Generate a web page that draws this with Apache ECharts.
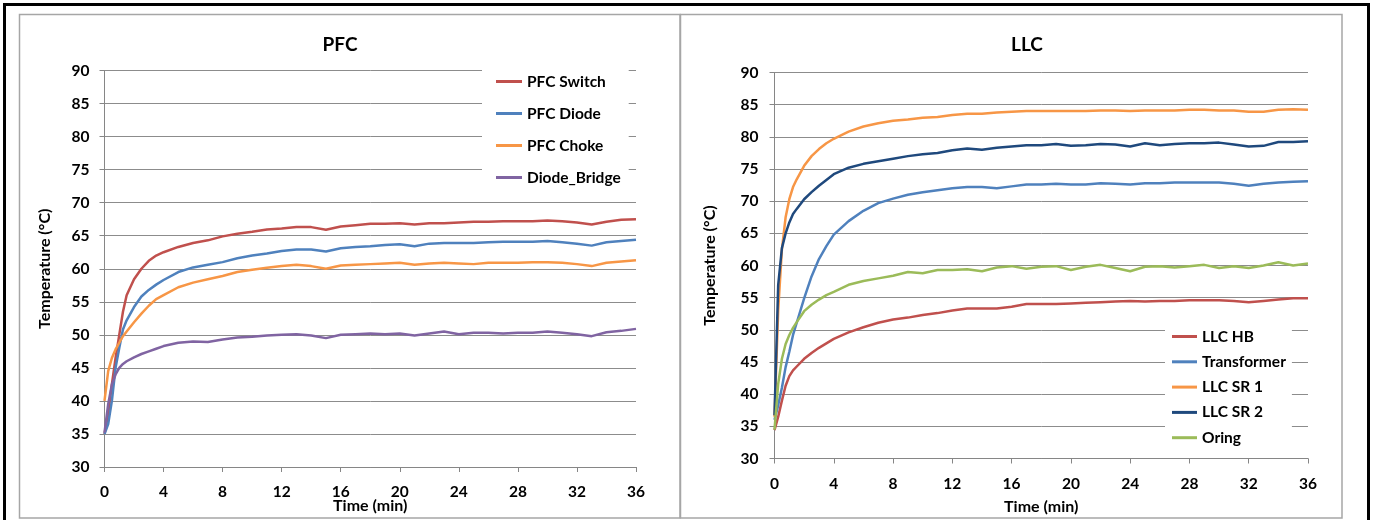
<!DOCTYPE html>
<html>
<head>
<meta charset="utf-8">
<script src="https://cdn.jsdelivr.net/npm/echarts@6/dist/echarts.min.js"></script>
<style>
html,body{margin:0;padding:0;background:#fff;}
#chart{width:1375px;height:520px;}
</style>
</head>
<body>
<div id="chart"></div>
<script>
// ---- data ----
const timeMin = [0,0.25,0.5,0.75,1,1.25,1.5,2,2.5,3,3.5,4,5,6,7,8,9,10,11,12,13,14,15,16,17,18,19,20,21,22,23,24,25,26,27,28,29,30,31,32,33,34,35,36];

const pfcNames = ['PFC Switch','PFC Diode','PFC Choke','Diode_Bridge'];
const pfcSwitch = [35,38,42.5,46.5,50,53.5,56,58.4,60,61.2,62,62.5,63.3,63.9,64.3,64.9,65.3,65.6,65.95,66.1,66.3,66.3,65.9,66.4,66.6,66.8,66.8,66.9,66.7,66.9,66.9,67.0,67.1,67.1,67.2,67.2,67.2,67.3,67.2,67.0,66.7,67.1,67.4,67.5];
const pfcDiode = [35,36.5,40,45,48,50.8,52.2,54.2,55.8,56.8,57.6,58.3,59.5,60.2,60.6,61.0,61.6,62.0,62.3,62.7,62.9,62.9,62.6,63.1,63.3,63.4,63.6,63.7,63.4,63.8,63.9,63.9,63.9,64.0,64.1,64.1,64.1,64.2,64.0,63.8,63.5,64.0,64.2,64.4];
const pfcChoke = [40,44.5,46.5,47.8,48.8,49.8,50.5,51.9,53.2,54.4,55.4,56.0,57.2,57.9,58.4,58.9,59.5,59.85,60.15,60.4,60.6,60.4,60.0,60.5,60.6,60.7,60.8,60.9,60.6,60.8,60.9,60.8,60.7,60.9,60.9,60.9,61.0,61.0,60.9,60.7,60.4,60.9,61.1,61.3];
const diodeBridge = [35.2,39.5,42.5,44,45,45.6,46,46.6,47.1,47.5,47.9,48.3,48.8,49.0,48.9,49.3,49.6,49.7,49.9,50.0,50.1,49.9,49.5,50.0,50.1,50.2,50.1,50.2,49.9,50.2,50.5,50.1,50.3,50.3,50.2,50.3,50.3,50.5,50.3,50.1,49.8,50.4,50.6,50.9];

const llcNames = ['LLC HB','Transformer','LLC SR 1','LLC SR 2','Oring'];
const llcHB = [34.4,36.5,39,41.3,42.8,43.7,44.3,45.5,46.4,47.2,47.9,48.6,49.6,50.4,51.1,51.6,51.9,52.3,52.6,53.0,53.3,53.3,53.3,53.6,54.0,54.0,54.0,54.1,54.2,54.3,54.4,54.5,54.4,54.5,54.5,54.6,54.6,54.6,54.5,54.3,54.5,54.7,54.9,54.9];
const transformer = [36,38.3,41,44.2,46.6,49.2,51.1,54.9,58.3,61,63,64.8,66.9,68.5,69.7,70.4,71.0,71.4,71.7,72.0,72.2,72.2,72.0,72.3,72.6,72.6,72.7,72.6,72.6,72.8,72.7,72.6,72.8,72.8,72.9,72.9,72.9,72.9,72.7,72.4,72.7,72.9,73.0,73.1];
const llcSR1 = [36.5,53,62.5,67.5,70.3,72.2,73.4,75.5,77.0,78.1,79.0,79.7,80.8,81.6,82.1,82.5,82.7,82.95,83.1,83.4,83.6,83.6,83.8,83.9,84.0,84.0,84.0,84.0,84.0,84.1,84.1,84.0,84.1,84.1,84.1,84.2,84.2,84.1,84.1,83.9,83.9,84.2,84.3,84.2];
const llcSR2 = [36.7,57,62.7,65,66.7,68,68.8,70.3,71.4,72.4,73.3,74.2,75.2,75.8,76.2,76.6,77.0,77.3,77.5,77.9,78.2,78.0,78.3,78.5,78.7,78.7,78.9,78.6,78.7,78.9,78.8,78.5,79.0,78.7,78.9,79.0,79.0,79.1,78.8,78.5,78.6,79.2,79.2,79.3];
const oring = [34.5,41.6,45.5,47.8,49.2,50.3,51.2,52.9,53.9,54.7,55.4,55.9,57.0,57.6,58.0,58.4,59.0,58.8,59.3,59.3,59.4,59.1,59.7,59.9,59.5,59.8,59.9,59.3,59.8,60.1,59.6,59.1,59.8,59.9,59.7,59.9,60.1,59.6,59.9,59.6,60.0,60.5,60.0,60.3];

const xTicks = {min:0, max:36, interval:4};
const yTicks = {min:30, max:90, interval:5};

const pfcColors = ['#C0504D','#4F81BD','#F79646','#8064A2'];
const llcColors = ['#C0504D','#4F81BD','#F79646','#1F497D','#9BBB59'];

// ---- chart ----
const FONT = 'Lato, "Open Sans", sans-serif';
const chart = echarts.init(document.getElementById('chart'), null, {renderer:'canvas'});

function pairs(vals){ return timeMin.map((t,i)=>[t, vals[i]]); }

function xAxis(gi, nameGap){
  return {
    type:'value', gridIndex:gi, min:xTicks.min, max:xTicks.max, interval:xTicks.interval,
    name:'Time (min)', nameLocation:'middle', nameGap:nameGap, nameMoveOverlap:false,
    nameTextStyle:{fontFamily:FONT, fontWeight:'bold', fontSize:16, color:'#000'},
    axisLine:{show:true, onZero:false, lineStyle:{color:'#868686', width:1}},
    axisTick:{show:true, length:5, lineStyle:{color:'#868686'}},
    axisLabel:{fontFamily:FONT, fontWeight:'bold', fontSize:15.5, color:'#000', margin:17},
    splitLine:{show:false}
  };
}
function yAxis(gi, nameGap, margin){
  return {
    type:'value', gridIndex:gi, min:yTicks.min, max:yTicks.max, interval:yTicks.interval,
    name:'Temperature (°C)', nameLocation:'middle', nameGap:nameGap, nameRotate:90, nameMoveOverlap:false,
    nameTextStyle:{fontFamily:FONT, fontWeight:'bold', fontSize:16, color:'#000'},
    axisLine:{show:true, lineStyle:{color:'#868686', width:1}},
    axisTick:{show:true, length:5, lineStyle:{color:'#868686'}},
    axisLabel:{fontFamily:FONT, fontWeight:'bold', fontSize:15.5, color:'#000', margin:margin},
    splitLine:{show:true, lineStyle:{color:'#8c8c8c', width:1}}
  };
}

const pfcVals = [pfcSwitch, pfcDiode, pfcChoke, diodeBridge];
const llcVals = [llcHB, transformer, llcSR1, llcSR2, oring];

const series = [];
pfcNames.forEach((n,i)=>series.push({
  name:n, type:'line', xAxisIndex:0, yAxisIndex:0, data:pairs(pfcVals[i]),
  showSymbol:false, symbol:'none', smooth:false,
  lineStyle:{color:pfcColors[i], width:2.5}, itemStyle:{color:pfcColors[i]}
}));
llcNames.forEach((n,i)=>series.push({
  name:n, type:'line', xAxisIndex:1, yAxisIndex:1, data:pairs(llcVals[i]),
  showSymbol:false, symbol:'none', smooth:false,
  lineStyle:{color:llcColors[i], width:2.5}, itemStyle:{color:llcColors[i]}
}));

chart.setOption({
  animation:false,
  backgroundColor:'#fff',
  grid:[
    {left:104.5, top:70.5, width:531.5, height:396.5, containLabel:false, outerBoundsMode:'none'},
    {left:774.5, top:72.5, width:533.5, height:386, containLabel:false, outerBoundsMode:'none'}
  ],
  xAxis:[xAxis(0, 31), xAxis(1, 40)],
  yAxis:[yAxis(0, 52, 15), yAxis(1, 57, 16)],
  legend:[
    {data:pfcNames, orient:'vertical', left:482, top:62, icon:'rect', itemWidth:26, itemHeight:3,
     itemGap:15, padding:[11,8,10,14], backgroundColor:'#fff',
     textStyle:{fontFamily:FONT, fontWeight:'bold', fontSize:15.5, color:'#000', lineHeight:17}},
    {data:llcNames, orient:'vertical', left:1165, top:312, icon:'rect', itemWidth:25, itemHeight:3,
     itemGap:8.3, padding:[16,6,6,7], backgroundColor:'#fff',
     textStyle:{fontFamily:FONT, fontWeight:'bold', fontSize:15.5, color:'#000', lineHeight:17}}
  ],
  graphic:[
    {type:'rect', shape:{x:4.5, y:4.5, width:1364, height:520}, style:{fill:null, stroke:'#000', lineWidth:3}, silent:true, z:-1},
    {type:'rect', shape:{x:19.5, y:14.5, width:660.5, height:503.5}, style:{fill:null, stroke:'#a6a6a6', lineWidth:1.5}, silent:true, z:-1},
    {type:'rect', shape:{x:680.5, y:14.5, width:661.5, height:503.5}, style:{fill:null, stroke:'#a6a6a6', lineWidth:1.5}, silent:true, z:-1},
    {type:'text', x:340, y:45, style:{text:'PFC', textAlign:'center', textVerticalAlign:'middle', font:'bold 19px '+FONT, fill:'#000'}},
    {type:'text', x:1027, y:45, style:{text:'LLC', textAlign:'center', textVerticalAlign:'middle', font:'bold 19px '+FONT, fill:'#000'}}
  ],
  series:series
});
</script>
</body>
</html>
